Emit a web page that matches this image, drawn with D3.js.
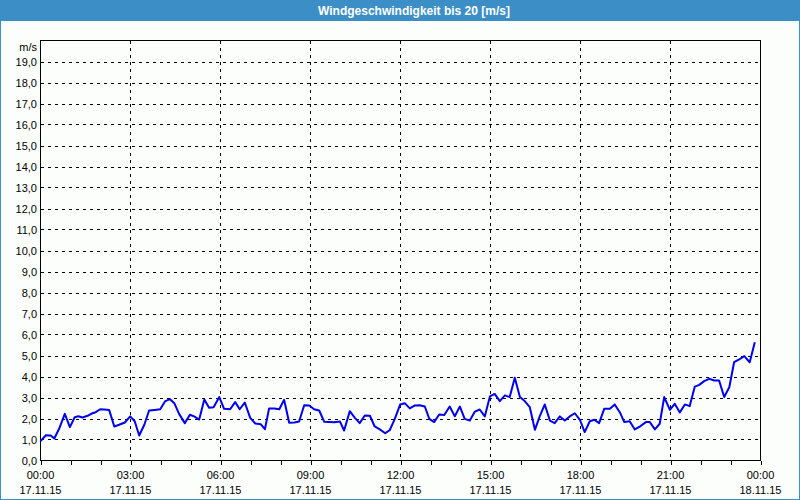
<!DOCTYPE html>
<html>
<head>
<meta charset="utf-8">
<script src="https://cdn.jsdelivr.net/npm/d3@7"></script>
<style>
	body { margin: 0; background: #fff; }
	svg { display: block; }
	text { font-family: "Liberation Sans", Arial, sans-serif; font-size: 11px; fill: #000; }
</style>
</head>
<body>
<svg id="chart" width="800" height="500"></svg>
<script>
// tick labels
const yTicks = d3.range(0, 20);
const timeLabels = ["00:00", "03:00", "06:00", "09:00", "12:00", "15:00", "18:00", "21:00", "00:00"];
const dateLabels = ["17.11.15", "17.11.15", "17.11.15", "17.11.15", "17.11.15", "17.11.15", "17.11.15", "17.11.15", "18.11.15"];

// measurement times (hours since 17.11.15 00:00) and wind speed in m/s
const hours = [
	0, 0.18, 0.34, 0.46, 0.62, 0.81, 0.98, 1.14, 1.26, 1.4, 1.57, 1.73, 1.84, 1.99, 2.12, 2.29,
	2.46, 2.62, 2.81, 2.99, 3.14, 3.29, 3.46, 3.62, 3.81, 3.99, 4.16, 4.32, 4.46, 4.62, 4.81, 4.98,
	5.12, 5.29, 5.46, 5.62, 5.77, 5.96, 6.12, 6.32, 6.49, 6.64, 6.81, 6.99, 7.16, 7.34, 7.48, 7.62,
	7.79, 7.96, 8.12, 8.29, 8.46, 8.62, 8.79, 8.96, 9.12, 9.29, 9.46, 9.62, 9.79, 9.98, 10.12, 10.31,
	10.48, 10.64, 10.81, 10.98, 11.14, 11.31, 11.49, 11.64, 11.81, 11.99, 12.14, 12.31, 12.48, 12.64,
	12.81, 12.96, 13.12, 13.29, 13.46, 13.64, 13.81, 13.98, 14.14, 14.31, 14.48, 14.64, 14.81, 14.98,
	15.14, 15.31, 15.48, 15.64, 15.81, 15.98, 16.14, 16.31, 16.48, 16.64, 16.81, 16.98, 17.14, 17.31,
	17.48, 17.64, 17.81, 17.98, 18.14, 18.31, 18.46, 18.62, 18.79, 18.98, 19.14, 19.31, 19.46, 19.64,
	19.81, 19.99, 20.18, 20.31, 20.48, 20.64, 20.79, 20.98, 21.14, 21.31, 21.48, 21.64, 21.81, 21.96,
	22.12, 22.29, 22.46, 22.62, 22.79, 22.96, 23.12, 23.29, 23.46, 23.64, 23.81
];
const speeds = [
	0.92, 1.2, 1.19, 1.05, 1.51, 2.22, 1.59, 2.06, 2.11, 2.05, 2.13, 2.25, 2.3, 2.44, 2.43, 2.4,
	1.62, 1.7, 1.81, 2.1, 1.87, 1.19, 1.7, 2.38, 2.41, 2.44, 2.83, 2.92, 2.73, 2.22, 1.78, 2.18,
	2.1, 1.95, 2.9, 2.51, 2.54, 3.02, 2.46, 2.44, 2.78, 2.44, 2.76, 2.03, 1.76, 1.73, 1.49, 2.48,
	2.48, 2.44, 2.89, 1.8, 1.81, 1.86, 2.63, 2.62, 2.44, 2.38, 1.84, 1.83, 1.82, 1.86, 1.43, 2.35,
	2.03, 1.78, 2.14, 2.13, 1.62, 1.48, 1.3, 1.44, 1.98, 2.67, 2.73, 2.48, 2.62, 2.63,
	2.57, 1.98, 1.83, 2.19, 2.17, 2.57, 2.11, 2.57, 1.98, 1.9, 2.33, 2.43, 2.1, 3.05,
	3.17, 2.83, 3.1, 3.02, 3.94, 3.02, 2.83, 2.54, 1.46, 2.1, 2.67, 1.9, 1.78, 2.1,
	1.9, 2.1, 2.25, 1.94, 1.35, 1.87, 1.94, 1.78, 2.46, 2.46, 2.67, 2.3, 1.83, 1.87,
	1.48, 1.63, 1.83, 1.83, 1.48, 1.75, 3.02, 2.41, 2.7, 2.29, 2.67, 2.59, 3.52, 3.6,
	3.78, 3.89, 3.81, 3.81, 3.02, 3.49, 4.68, 4.81, 4.97, 4.68, 5.63
];

const width = 800;
const height = 500;
const plot = { left: 40.5, right: 760.5, top: 40.5, bottom: 460.5 };

const svg = d3.select("#chart");

// frame and title bar
svg.append("rect")
	.attr("x", 0.5).attr("y", 0.5)
	.attr("width", width - 1).attr("height", height - 1)
	.attr("fill", "#fcfefc")
	.attr("stroke", "#3c8fc6");

svg.append("rect")
	.attr("x", 0).attr("y", 0)
	.attr("width", width).attr("height", 21)
	.attr("fill", "#3c8fc6");

svg.append("text")
	.attr("x", 414).attr("y", 15)
	.attr("text-anchor", "middle")
	.style("font-weight", "bold")
	.style("font-size", "12px")
	.style("fill", "#fff")
	.text("Windgeschwindigkeit bis 20 [m/s]");

const x = d3.scaleLinear()
	.domain([0, 24])
	.range([plot.left, plot.right]);

const y = d3.scaleLinear()
	.domain([0, 20])
	.range([plot.bottom, plot.top]);

// grid
const grid = svg.append("g")
	.attr("stroke", "#000")
	.attr("stroke-dasharray", "3,4")
	.attr("shape-rendering", "crispEdges");

grid.selectAll(".hgrid")
	.data(yTicks.slice(1))
	.enter()
	.append("line")
	.attr("x1", plot.left).attr("x2", plot.right)
	.attr("y1", d => Math.round(y(d)) + 0.5)
	.attr("y2", d => Math.round(y(d)) + 0.5);

grid.selectAll(".vgrid")
	.data(d3.range(3, 24, 3))
	.enter()
	.append("line")
	.attr("y1", plot.top).attr("y2", plot.bottom)
	.attr("x1", d => x(d)).attr("x2", d => x(d));

// hourly ticks below the x axis
const xAxis = svg.append("g")
	.attr("transform", "translate(0," + plot.bottom + ")")
	.call(d3.axisBottom(x).tickValues(d3.range(0, 25)).tickSize(4).tickFormat(""));
xAxis.select(".domain").remove();
xAxis.selectAll("line").attr("shape-rendering", "crispEdges");

// plot border
svg.append("rect")
	.attr("x", plot.left).attr("y", plot.top)
	.attr("width", plot.right - plot.left).attr("height", plot.bottom - plot.top)
	.attr("fill", "none")
	.attr("stroke", "#000")
	.attr("shape-rendering", "crispEdges");

// y labels
svg.selectAll(".ylabel")
	.data(yTicks)
	.enter()
	.append("text")
	.attr("x", 37)
	.attr("y", d => y(d) + 4)
	.attr("text-anchor", "end")
	.text(d => d3.format(".1f")(d).replace(".", ","));

svg.append("text")
	.attr("x", 37).attr("y", 51)
	.attr("text-anchor", "end")
	.text("m/s");

// x labels
svg.selectAll(".xtime")
	.data(timeLabels)
	.enter()
	.append("text")
	.attr("x", (d, i) => x(i * 3))
	.attr("y", 479)
	.attr("text-anchor", "middle")
	.text(d => d);

svg.selectAll(".xdate")
	.data(dateLabels)
	.enter()
	.append("text")
	.attr("x", (d, i) => x(i * 3))
	.attr("y", 494)
	.attr("text-anchor", "middle")
	.text(d => d);

// wind line
const line = d3.line()
	.x((d, i) => x(hours[i]))
	.y(d => y(d));

svg.append("path")
	.datum(speeds)
	.attr("fill", "none")
	.attr("stroke", "#0000f0")
	.attr("stroke-width", 2)
	.attr("stroke-linejoin", "round")
	.attr("d", line);
</script>
</body>
</html>
